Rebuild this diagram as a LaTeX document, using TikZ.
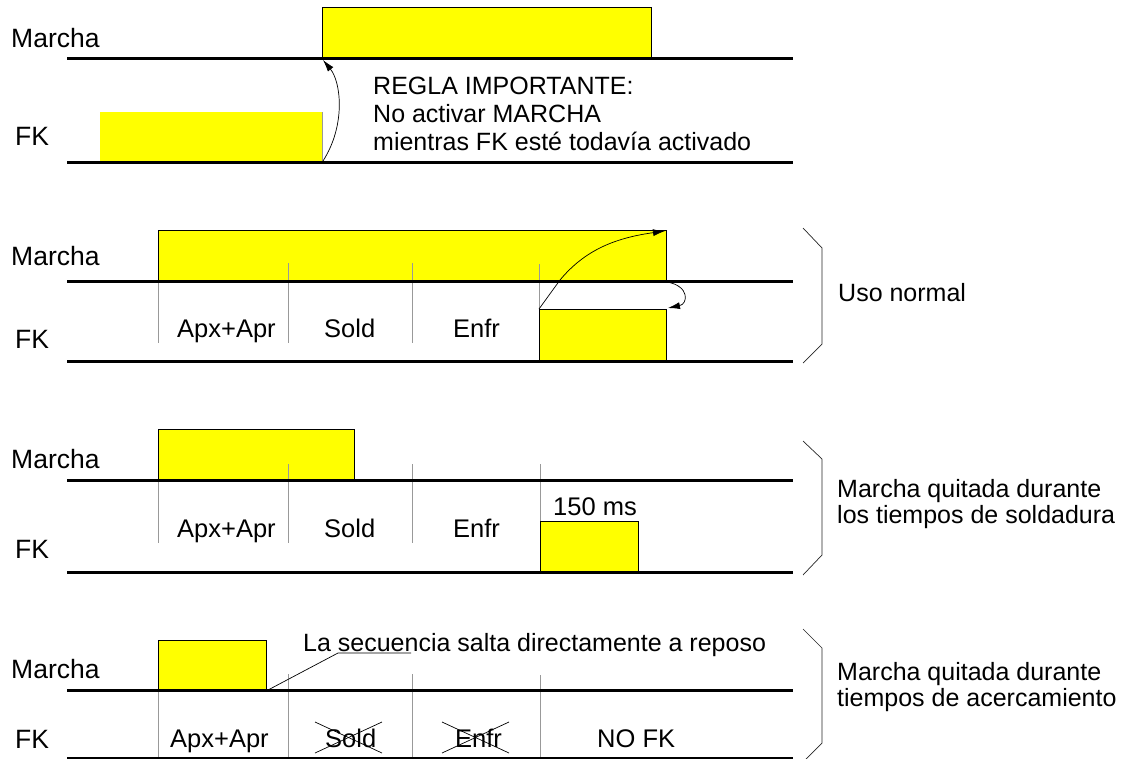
\documentclass[tikz,border=0pt]{standalone}
\usepackage{fontspec}
\setmainfont{Liberation Sans}
\usetikzlibrary{arrows.meta}
\definecolor{yel}{RGB}{255,255,0}
\begin{document}
\begin{tikzpicture}[x=1pt,y=-1pt,
  lbl/.style={anchor=base west, inner sep=0pt, font=\fontsize{25.5}{30}\selectfont},
  side/.style={anchor=base west, inner sep=0pt, font=\fontsize{26.5}{30}\selectfont},
  note/.style={anchor=base west, inner sep=0pt, font=\fontsize{25}{28}\selectfont},
  axis/.style={line width=3pt},
  pulse/.style={fill=yel, draw=black, line width=0.8pt},
  divider/.style={draw=black!40, line width=0.8pt},
  thinline/.style={line width=0.7pt},
  tip/.style={-{Latex[length=12pt,width=7pt]}},
  bracket/.style={line width=0.7pt, draw=black!85}]
\useasboundingbox (0,0) rectangle (1127,758);
\clip (0,0) rectangle (1127,758);

% ---------------- Section 1 ----------------
\fill[yel] (100,112) rectangle (322,162);
\draw[black!40, line width=0.8pt] (322,112) -- (322,162);
\filldraw[pulse] (322,58) rectangle (651,7);
\draw[axis] (67,58) -- (793,58);
\draw[axis] (67,162) -- (793,162);
\node[side] (m1) at (11,47) {Marcha};
\node[side] (f1) at (15,145) {FK};
\node[note] (r1) at (373,94) {REGLA IMPORTANTE:};
\node[note] (r2) at (373,122) {No activar MARCHA};
\node[note] (r3) at (373,150) {mientras FK esté todavía activado};
\coordinate (a1s) at (323,161);
\coordinate (a1e) at (323,60);
\draw[thinline,tip] (a1s) .. controls (346,125) and (341,82) .. (a1e);

% ---------------- Section 2 ----------------
\filldraw[pulse] (158,230) rectangle (666,281);
\filldraw[pulse] (539,309) rectangle (666,361);
\draw[divider] (158,281) -- (158,343);
\draw[divider] (288,263) -- (288,343);
\draw[divider] (412,263) -- (412,343);
\draw[divider] (539,264) -- (539,309);
\draw[axis] (67,281) -- (793,281);
\draw[axis] (67,361) -- (793,361);
\node[side] (m2) at (11,265) {Marcha};
\node[side] (f2) at (15,348) {FK};
\node[lbl] (p2a) at (177,337) {Apx+Apr};
\node[lbl] (p2b) at (324,337) {Sold};
\node[lbl] (p2c) at (453,337) {Enfr};
\coordinate (a2s) at (539,309);
\coordinate (a2e) at (665,231);
\draw[thinline,tip] (a2s) -- (560,280) .. controls (585,250) and (615,238) .. (a2e);
\coordinate (a3s) at (667,282);
\coordinate (a3e) at (668,308);
\draw[thinline,tip] (a3s) .. controls (690,286) and (688,304) .. (a3e);
\draw[bracket] (803,228) -- (822,248) -- (822,344) -- (803,363);
\node[note] (u2) at (838,301) {Uso normal};

% ---------------- Section 3 ----------------
\filldraw[pulse] (158,429) rectangle (354,480);
\filldraw[pulse] (540,521) rectangle (638,572);
\draw[divider] (158,480) -- (158,543);
\draw[divider] (288,464) -- (288,543);
\draw[divider] (412,464) -- (412,543);
\draw[divider] (540,464) -- (540,521);
\draw[axis] (67,480) -- (793,480);
\draw[axis] (67,572) -- (793,572);
\node[side] (m3) at (11,468) {Marcha};
\node[side] (f3) at (15,558) {FK};
\node[lbl] (p3a) at (177,537) {Apx+Apr};
\node[lbl] (p3b) at (324,537) {Sold};
\node[lbl] (p3c) at (453,537) {Enfr};
\node[lbl] (ms) at (553,515) {150 ms};
\draw[bracket] (803,441) -- (822,459) -- (822,555) -- (803,575);
\node[note] (u3a) at (837,497) {Marcha quitada durante};
\node[note] (u3b) at (837,523) {los tiempos de soldadura};

% ---------------- Section 4 ----------------
\filldraw[pulse] (158,640) rectangle (266,690);
\draw[divider] (158,690) -- (158,758);
\draw[divider] (288,674) -- (288,758);
\draw[divider] (412,674) -- (412,758);
\draw[divider] (540,675) -- (540,758);
\draw[axis] (67,690) -- (793,690);
\draw[axis] (67,758) -- (793,758);
\node[side] (m4) at (11,678) {Marcha};
\node[side] (f4) at (15,748) {FK};
\node[lbl] (p4a) at (170,747) {Apx+Apr};
\node[lbl] (p4b) at (325,747) {Sold};
\node[lbl] (p4c) at (455,747) {Enfr};
\node[lbl] (p4d) at (597,747) {NO FK};
\draw[thinline] (315,722) -- (382,753);
\draw[thinline] (315,753) -- (382,722);
\draw[thinline] (442,722) -- (509,753);
\draw[thinline] (442,753) -- (509,722);
\node[note] (seq) at (303,651) {La secuencia salta directamente a reposo};
\coordinate (l1) at (268,690);
\coordinate (l2) at (338,653);
\coordinate (l3) at (411,653);
\draw[thinline] (l1) -- (l2) -- (l3);
\draw[bracket] (803,629) -- (822,648) -- (822,743) -- (803,762);
\node[note] (u4a) at (837,680) {Marcha quitada durante};
\node[note] (u4b) at (837,706) {tiempos de acercamiento};
\end{tikzpicture}
\end{document}
